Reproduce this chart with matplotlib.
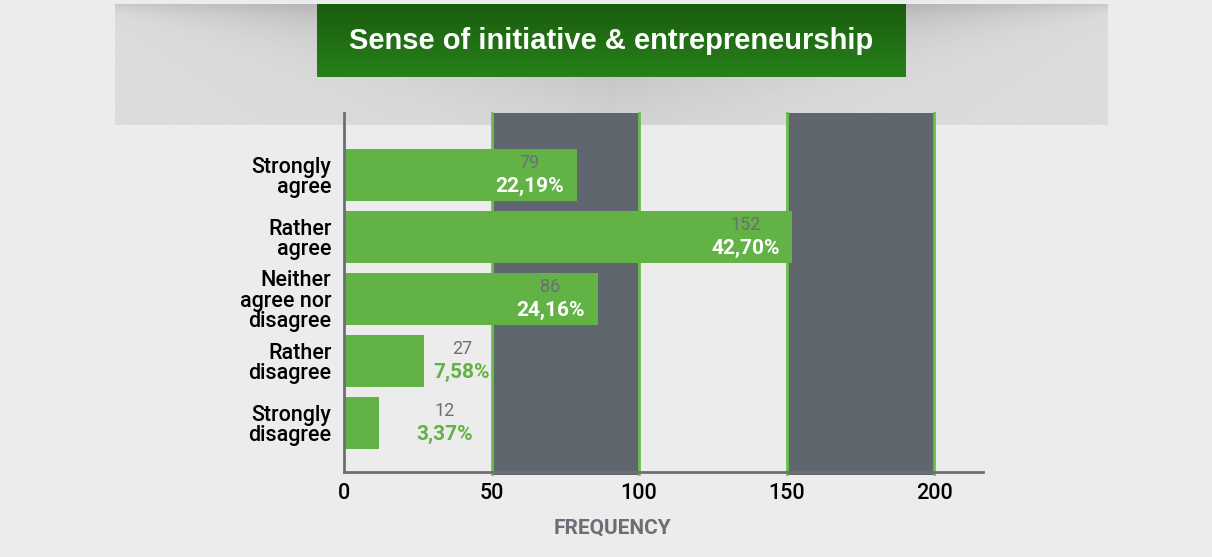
import numpy as np
import matplotlib.pyplot as plt
from matplotlib.colors import LinearSegmentedColormap

categories = ["Strongly\nagree", "Rather\nagree", "Neither\nagree nor\ndisagree",
              "Rather\ndisagree", "Strongly\ndisagree"]
counts = [79, 152, 86, 27, 12]
percents = ["22,19%", "42,70%", "24,16%", "7,58%", "3,37%"]
bands = [(50, 100), (150, 200)]
xticks = [0, 50, 100, 150, 200]

GREEN = "#62b245"
EDGE = "#6abf4b"
DARK = "#5f666d"
GRAY_TXT = "#6b6f75"
BG = "#ececec"
FONT = "Roboto"

W, H = 1212, 557
fig = plt.figure(figsize=(W / 100, H / 100), dpi=100, facecolor=BG)

# header panel with a soft shadow at the top
bg_ax = fig.add_axes([0, 0, 1, 1], zorder=0)
bg_ax.set_xlim(0, W)
bg_ax.set_ylim(H, 0)
bg_ax.axis("off")
px0, px1, py0, py1 = 115, 1108, 4, 125
xx, yy = np.meshgrid(np.linspace(0, 1, 400), np.linspace(0, 1, 120))
center = 1 - np.abs(xx - 0.5) * 2
reach = 0.04 + 0.5 * center
shade = 0.86 - 0.25 * np.exp(-yy / reach) * (0.3 + 0.7 * center)
bg_ax.imshow(shade, cmap="gray", vmin=0, vmax=1, extent=(px0, px1, py1, py0),
             aspect="auto", interpolation="bilinear", zorder=1)

# title box with green gradient
tx0, tx1, ty0, ty1 = 317, 906, 4, 77
grad = np.linspace(0, 1, 100).reshape(-1, 1)
gcmap = LinearSegmentedColormap.from_list("g", ["#1b5c0f", "#268119"])
bg_ax.imshow(grad, cmap=gcmap, extent=(tx0, tx1, ty1, ty0), aspect="auto", zorder=2)
bg_ax.text((tx0 + tx1) / 2, 41, "Sense of initiative & entrepreneurship", color="white",
           fontsize=21, fontweight="bold", family="Liberation Sans",
           ha="center", va="center", zorder=3)
bg_ax.text(612, 528, "FREQUENCY", color=GRAY_TXT, fontsize=15, fontweight="bold",
           family=FONT, ha="center", va="center")

# main chart
ax = fig.add_axes([344 / W, 85 / H, (983 - 344) / W, (472 - 113) / H], zorder=2)
ax.set_facecolor("none")
ax.set_xlim(0, 216.6)
ax.set_ylim(4.79, -1.0)

for a, b in bands:
    ax.axvspan(a, b, ymin=-0.008, ymax=1, facecolor=DARK, linewidth=0,
               clip_on=False, zorder=1)
    for xe in (a, b):
        ax.plot([xe, xe], [-1.0, 4.82], color=EDGE, linewidth=2,
                clip_on=False, zorder=2)

y = np.arange(len(categories))
ax.barh(y, counts, height=0.84, color=GREEN, zorder=3)

for i, (c, p) in enumerate(zip(counts, percents)):
    if c > 50:
        xc = c - 16
        pcol = "white"
    else:
        xc = max(c + 13, 34)
        pcol = GREEN
    ax.text(xc, i - 0.2, str(c), color=GRAY_TXT, fontsize=13, family=FONT,
            ha="center", va="center", zorder=4)
    ax.text(xc, i + 0.18, p, color=pcol, fontsize=15, fontweight="bold", family=FONT,
            ha="center", va="center", zorder=4)

ax.set_yticks(y)
ax.set_yticklabels(categories, fontsize=15.5, family=FONT, fontweight="medium",
                   linespacing=0.95)
ax.set_xticks(xticks)
ax.set_xticklabels([str(t) for t in xticks], fontsize=15.5, family=FONT,
                   fontweight="medium")
ax.tick_params(length=0)
ax.tick_params(axis="y", pad=9)
ax.tick_params(axis="x", pad=8)
for s in ["top", "right"]:
    ax.spines[s].set_visible(False)
for s in ["left", "bottom"]:
    ax.spines[s].set_color(GRAY_TXT)
    ax.spines[s].set_linewidth(2)
    ax.spines[s].set_zorder(5)

fig.savefig("out.png", dpi=100, facecolor=BG)
